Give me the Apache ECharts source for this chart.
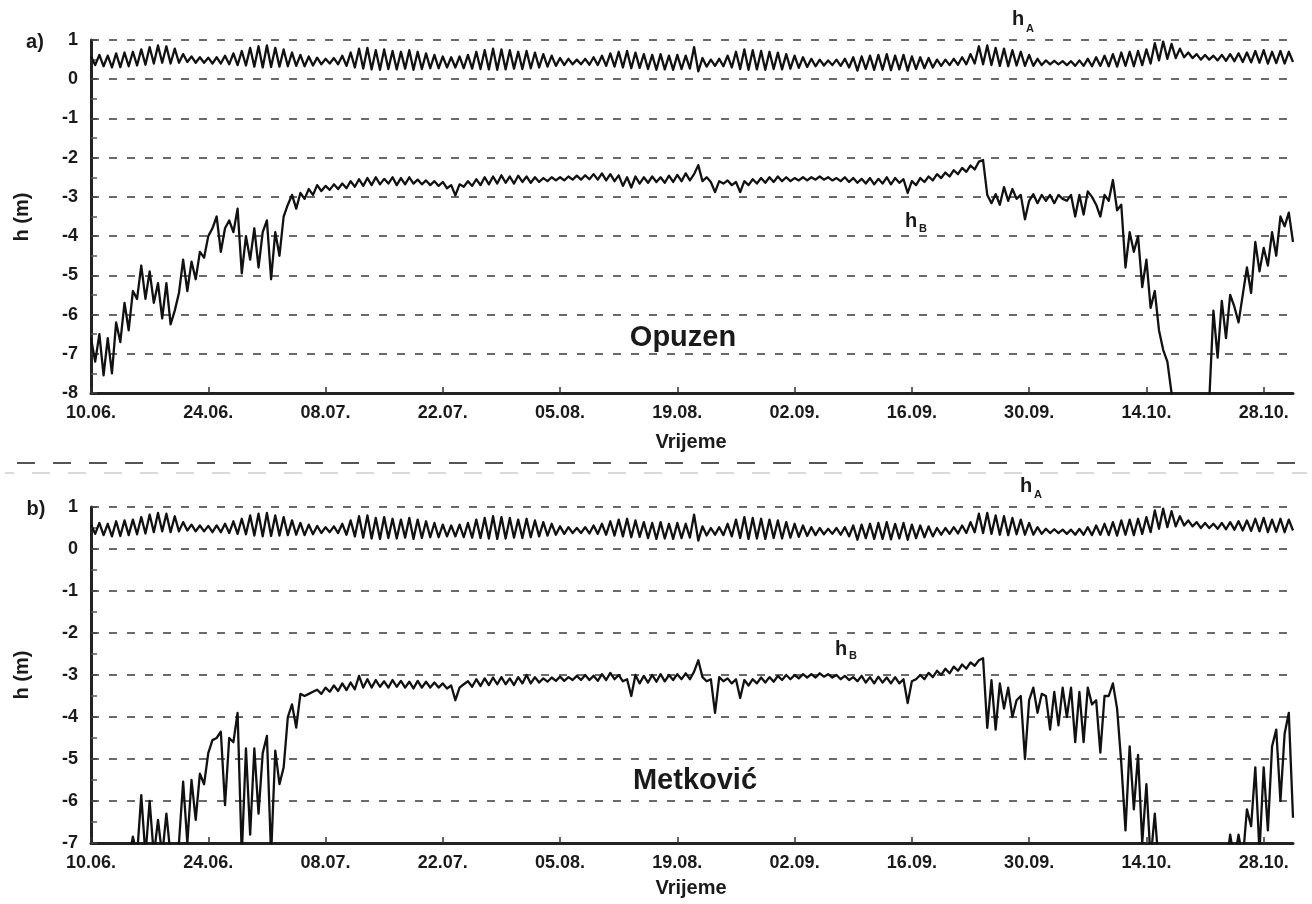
<!DOCTYPE html>
<html>
<head>
<meta charset="utf-8">
<script src="https://cdn.jsdelivr.net/npm/echarts@6/dist/echarts.min.js"></script>
<style>
html,body{margin:0;padding:0;background:#fff;}
#c{width:1312px;height:904px;}
</style>
</head>
<body>
<div id="c"></div>
<script>
// ---- data ----
const STEP_DAYS = 0.5;              // spacing of samples (days after 10.06.)
const tickDays = [0, 14, 28, 42, 56, 70, 84, 98, 112, 126, 140];
const tickLabels = ['10.06.', '24.06.', '08.07.', '22.07.', '05.08.', '19.08.', '02.09.', '16.09.', '30.09.', '14.10.', '28.10.'];
const yTicksA = [-8, -7, -6, -5, -4, -3, -2, -1, 0, 1];
const yTicksB = [-7, -6, -5, -4, -3, -2, -1, 0, 1];

// sea level h_A (m), same record in both panels
const hA = [
  0.58,0.36, 0.62,0.33, 0.60,0.30, 0.66,0.31, 0.68,0.33, 0.70,0.35, 0.76,0.37, 0.82,0.40, 0.86,0.42, 0.84,0.40,
  0.78,0.42, 0.64,0.44, 0.58,0.42, 0.56,0.42, 0.55,0.40, 0.56,0.40, 0.60,0.38, 0.66,0.36, 0.72,0.35, 0.80,0.32,
  0.84,0.30, 0.86,0.31, 0.80,0.32, 0.76,0.33, 0.68,0.34, 0.62,0.33, 0.58,0.35, 0.55,0.38, 0.52,0.40, 0.54,0.38,
  0.60,0.34, 0.68,0.30, 0.78,0.27, 0.80,0.25, 0.74,0.24, 0.76,0.26, 0.72,0.25, 0.70,0.27, 0.74,0.24, 0.70,0.26,
  0.66,0.28, 0.62,0.28, 0.58,0.30, 0.56,0.30, 0.58,0.28, 0.62,0.27, 0.70,0.26, 0.74,0.25, 0.78,0.24, 0.76,0.25,
  0.74,0.27, 0.70,0.26, 0.72,0.28, 0.68,0.30, 0.64,0.32, 0.60,0.34, 0.54,0.36, 0.52,0.38, 0.50,0.38, 0.52,0.37,
  0.56,0.36, 0.60,0.34, 0.66,0.32, 0.70,0.30, 0.72,0.28, 0.68,0.29, 0.64,0.26, 0.62,0.24, 0.64,0.25, 0.60,0.24,
  0.62,0.26, 0.60,0.27, 0.82,0.20, 0.54,0.32, 0.50,0.34, 0.52,0.33, 0.60,0.30, 0.70,0.26, 0.76,0.24, 0.74,0.25,
  0.72,0.24, 0.70,0.26, 0.68,0.25, 0.64,0.27, 0.60,0.29, 0.56,0.31, 0.52,0.33, 0.50,0.35, 0.48,0.36, 0.50,0.34,
  0.52,0.30, 0.56,0.22, 0.58,0.26, 0.60,0.24, 0.62,0.24, 0.64,0.23, 0.60,0.25, 0.62,0.22, 0.58,0.26, 0.56,0.28,
  0.54,0.30, 0.50,0.34, 0.50,0.36, 0.52,0.37, 0.56,0.38, 0.64,0.40, 0.84,0.38, 0.86,0.36, 0.80,0.34, 0.78,0.33,
  0.74,0.35, 0.70,0.34, 0.62,0.34, 0.52,0.36, 0.48,0.38, 0.47,0.38, 0.46,0.36, 0.46,0.34, 0.48,0.34, 0.52,0.33,
  0.56,0.34, 0.60,0.33, 0.64,0.32, 0.68,0.34, 0.70,0.33, 0.72,0.36, 0.76,0.40, 0.92,0.48, 0.96,0.52, 0.90,0.54,
  0.78,0.56, 0.68,0.54, 0.64,0.50, 0.62,0.50, 0.60,0.48, 0.62,0.47, 0.64,0.46, 0.66,0.44, 0.68,0.43, 0.72,0.42,
  0.74,0.40, 0.70,0.41, 0.72,0.40, 0.70,0.44
];

// groundwater level h_B (m), Opuzen
const hB_Opuzen = [
  -6.6,-7.2, -6.5,-7.55, -6.6,-7.5, -6.2,-6.7, -5.7,-6.4, -5.4,-5.6, -4.75,-5.6, -4.9,-5.7, -5.2,-6.1, -5.2,-6.25,
  -5.9,-5.45, -4.6,-5.4, -4.65,-5.1, -4.4,-4.55, -4.0,-3.8, -3.5,-4.4, -3.8,-3.6, -3.9,-3.3, -4.95,-4.0, -4.6,-3.8,
  -4.8,-3.9, -3.6,-5.1, -3.9,-4.5, -3.5,-3.2, -2.95,-3.3, -2.9,-3.05, -2.8,-2.95, -2.7,-2.85, -2.72,-2.82, -2.68,-2.8,
  -2.66,-2.78, -2.6,-2.74, -2.55,-2.72, -2.52,-2.7, -2.5,-2.68, -2.54,-2.66, -2.5,-2.7, -2.52,-2.68, -2.5,-2.66, -2.56,-2.68,
  -2.58,-2.7, -2.6,-2.72, -2.62,-2.78, -2.7,-2.96, -2.68,-2.74, -2.6,-2.72, -2.55,-2.7, -2.5,-2.68, -2.48,-2.66, -2.45,-2.64,
  -2.48,-2.66, -2.46,-2.62, -2.48,-2.64, -2.5,-2.62, -2.52,-2.6, -2.5,-2.58, -2.5,-2.58, -2.48,-2.56, -2.46,-2.56, -2.45,-2.55,
  -2.42,-2.56, -2.4,-2.58, -2.42,-2.6, -2.45,-2.72, -2.5,-2.76, -2.48,-2.66, -2.5,-2.64, -2.48,-2.62, -2.5,-2.64, -2.46,-2.62,
  -2.44,-2.6, -2.4,-2.58, -2.42,-2.19, -2.6,-2.5, -2.62,-2.88, -2.6,-2.66, -2.58,-2.7, -2.62,-2.88, -2.6,-2.7, -2.55,-2.66,
  -2.52,-2.64, -2.5,-2.62, -2.48,-2.6, -2.5,-2.6, -2.52,-2.58, -2.5,-2.58, -2.5,-2.56, -2.48,-2.56, -2.5,-2.58, -2.52,-2.6,
  -2.5,-2.62, -2.52,-2.64, -2.54,-2.66, -2.52,-2.68, -2.54,-2.66, -2.5,-2.68, -2.52,-2.64, -2.55,-2.9, -2.6,-2.7, -2.52,-2.62,
  -2.48,-2.58, -2.42,-2.52, -2.38,-2.48, -2.32,-2.42, -2.26,-2.36, -2.2,-2.3, -2.1,-2.06, -2.95,-3.16, -2.93,-3.2, -2.75,-3.1,
  -2.8,-3.05, -2.95,-3.57, -3.1,-2.93, -3.16,-2.95, -3.1,-2.95, -3.16,-2.95, -3.05,-3.1, -2.95,-3.5, -2.95,-3.45, -2.86,-3.0,
  -3.2,-3.5, -2.95,-3.1, -2.57,-3.34, -3.2,-4.8, -3.9,-4.4, -4.0,-5.3, -4.6,-5.83, -5.4,-6.4, -6.9,-7.2, -8.0,-8.6,
  -8.8,-9.0, -9.0,-9.0, -9.0,-8.8, -8.6,-8.2, -5.9,-7.1, -5.65,-6.6, -5.5,-5.8, -6.2,-5.5, -4.8,-5.45, -4.15,-4.9,
  -4.3,-4.75, -3.9,-4.5, -3.5,-3.75, -3.4,-4.15
];

// groundwater level h_B (m), Metković
const hB_Metkovic = [
  -7.6,-7.6, -7.6,-7.6, -7.6,-7.6, -7.6,-7.6, -7.6,-7.4, -6.85,-7.3, -5.86,-7.3, -6.0,-7.3, -6.45,-7.3, -6.3,-7.3,
  -7.4,-7.0, -5.54,-7.0, -5.5,-6.45, -5.35,-5.6, -4.86,-4.55, -4.5,-4.35, -6.1,-4.5, -4.6,-3.9, -7.3,-4.75, -6.8,-4.75,
  -6.3,-4.86, -4.45,-7.3, -4.8,-5.6, -5.2,-4.0, -3.7,-4.25, -3.45,-3.5, -3.45,-3.4, -3.35,-3.45, -3.3,-3.4, -3.25,-3.38,
  -3.2,-3.36, -3.18,-3.34, -3.02,-3.3, -3.1,-3.3, -3.12,-3.28, -3.15,-3.3, -3.12,-3.28, -3.14,-3.3, -3.16,-3.32, -3.14,-3.3,
  -3.16,-3.3, -3.18,-3.3, -3.2,-3.32, -3.25,-3.6, -3.3,-3.22, -3.15,-3.28, -3.1,-3.26, -3.08,-3.24, -3.06,-3.22, -3.05,-3.22,
  -3.08,-3.24, -3.05,-3.2, -3.0,-3.2, -3.05,-3.18, -3.08,-3.16, -3.06,-3.14, -3.04,-3.14, -3.05,-3.12, -3.02,-3.12, -3.0,-3.12,
  -3.02,-3.14, -2.98,-3.12, -2.95,-3.1, -3.0,-3.15, -3.1,-3.5, -3.0,-3.2, -3.02,-3.18, -3.0,-3.16, -2.98,-3.15, -3.0,-3.12,
  -2.98,-3.1, -2.96,-3.1, -2.92,-2.65, -3.05,-3.15, -3.1,-3.9, -3.05,-3.15, -3.08,-3.2, -3.1,-3.55, -3.12,-3.25, -3.1,-3.2,
  -3.06,-3.18, -3.05,-3.16, -3.02,-3.12, -3.0,-3.1, -3.0,-3.08, -2.98,-3.06, -2.98,-3.06, -2.96,-3.04, -2.98,-3.06, -3.0,-3.1,
  -3.02,-3.12, -3.05,-3.15, -3.02,-3.18, -3.05,-3.2, -3.04,-3.18, -3.06,-3.2, -3.05,-3.2, -3.1,-3.67, -3.15,-3.1, -3.0,-3.1,
  -2.95,-3.05, -2.9,-3.0, -2.85,-2.96, -2.8,-2.9, -2.75,-2.85, -2.7,-2.78, -2.65,-2.6, -4.26,-3.12, -4.3,-3.2, -3.8,-3.3,
  -4.0,-3.6, -3.5,-5.0, -3.6,-3.3, -3.9,-3.45, -3.5,-4.3, -3.4,-4.2, -3.3,-4.0, -3.3,-4.6, -3.4,-4.6, -3.3,-3.7,
  -3.6,-4.85, -3.5,-3.5, -3.2,-3.8, -5.1,-6.7, -4.7,-6.2, -4.9,-7.0, -5.6,-7.4, -6.3,-7.6, -7.8,-7.8, -7.8,-7.8,
  -7.8,-7.8, -7.8,-7.8, -7.8,-7.8, -7.8,-7.8, -7.8,-7.8, -7.8,-7.6, -6.8,-7.4, -6.8,-7.4, -6.2,-6.6, -5.2,-7.2,
  -5.2,-6.7, -4.7,-4.3, -6.0,-4.4, -3.9,-6.4
];

// ---- chart ----
const FONT = '"Liberation Sans", Arial, Helvetica, sans-serif';
const TXT = '#1a1a1a';
const LINE = '#111111';
const X_MAX = (hA.length - 1) * STEP_DAYS;

const toXY = arr => arr.map((v, i) => [i * STEP_DAYS, v]);

function makeX(gi) {
  return {
    type: 'value', gridIndex: gi, min: 0, max: X_MAX, interval: 14,
    axisLine: { show: true, onZero: false, lineStyle: { color: '#222', width: 3 } },
    axisTick: { show: true, inside: true, length: 6, customValues: tickDays, lineStyle: { color: '#333', width: 1.5 } },
    axisLabel: {
      customValues: tickDays, margin: 11,
      formatter: v => { const k = tickDays.indexOf(Math.round(v)); return k >= 0 ? tickLabels[k] : ''; },
      fontFamily: FONT, fontWeight: 'bold', fontSize: 18, color: TXT
    },
    splitLine: { show: false }
  };
}
function makeY(gi, ticks) {
  return {
    type: 'value', gridIndex: gi, min: ticks[0], max: ticks[ticks.length - 1], interval: 1,
    axisLine: { show: true, onZero: false, lineStyle: { color: '#222', width: 3 } },
    axisTick: { show: true, inside: true, length: 6, lineStyle: { color: '#444', width: 1.5 } },
    minorTick: { show: true, splitNumber: 2, length: 6, lineStyle: { color: '#555', width: 1.5 } },
    axisLabel: { margin: 13, fontFamily: FONT, fontWeight: 'bold', fontSize: 18, color: TXT },
    splitLine: { show: true, lineStyle: { color: '#6a6a6a', width: 2, type: [8, 10] } }
  };
}
function lineSeries(name, arr, gi) {
  return {
    name, type: 'line', xAxisIndex: gi, yAxisIndex: gi, data: toXY(arr),
    showSymbol: false, symbol: 'none', clip: true, animation: false,
    lineStyle: { color: LINE, width: 2.3, join: 'round' }, z: 3
  };
}
function txt(text, x, y, size, extra) {
  return Object.assign({
    type: 'text', x, y, z: 10,
    style: { text, fill: TXT, font: 'bold ' + size + 'px ' + FONT, textAlign: 'center', textVerticalAlign: 'middle' }
  }, extra || {});
}

const chart = echarts.init(document.getElementById('c'), null, { renderer: 'canvas' });
chart.setOption({
  backgroundColor: '#ffffff',
  animation: false,
  grid: [
    { left: 91, top: 40, width: 1202, height: 353 },
    { left: 91, top: 507, width: 1202, height: 336 }
  ],
  xAxis: [makeX(0), makeX(1)],
  yAxis: [makeY(0, yTicksA), makeY(1, yTicksB)],
  series: [
    lineSeries('hA Opuzen', hA, 0),
    lineSeries('hB Opuzen', hB_Opuzen, 0),
    lineSeries('hA Metković', hA, 1),
    lineSeries('hB Metković', hB_Metkovic, 1)
  ],
  graphic: [
    { type: 'line', z: 1, shape: { x1: 17, y1: 463, x2: 1300, y2: 463 }, style: { stroke: '#555', lineWidth: 2, lineDash: [18, 18] } },
    { type: 'line', z: 1, shape: { x1: 5, y1: 473, x2: 1307, y2: 473 }, style: { stroke: '#b4b4b4', lineWidth: 1, lineDash: [18, 18], lineDashOffset: -27 } },
    txt('a)', 35, 42, 20),
    txt('b)', 36, 509, 20),
    txt('h (m)', 22, 217, 20, { rotation: Math.PI / 2 }),
    txt('h (m)', 22, 675, 20, { rotation: Math.PI / 2 }),
    txt('Vrijeme', 691, 442, 20),
    txt('Vrijeme', 691, 888, 20),
    txt('Opuzen', 683, 338, 29),
    txt('Metković', 695, 781, 29),
    txt('h', 1018, 19, 20),
    txt('A', 1030, 29, 11),
    txt('h', 1026, 486, 20),
    txt('A', 1038, 495, 11),
    txt('h', 911, 221, 20),
    txt('B', 923, 229, 11),
    txt('h', 841, 649, 20),
    txt('B', 853, 656, 11)
  ]
});
</script>
</body>
</html>
